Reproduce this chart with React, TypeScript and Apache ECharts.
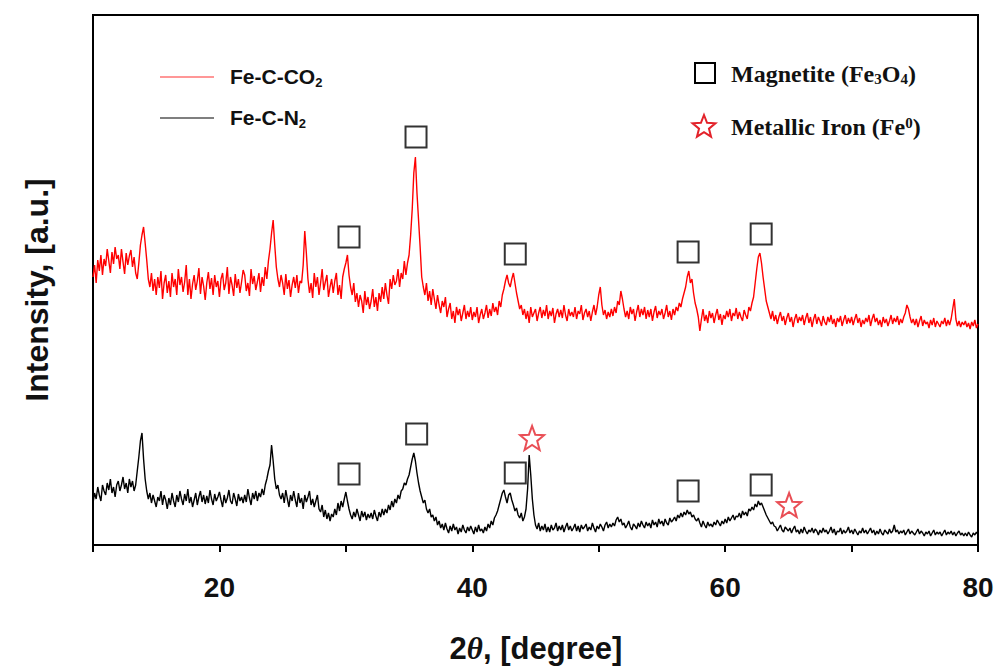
import React, { useEffect, useRef } from "react";
import * as echarts from "echarts";

// 2θ grid: 10° to 80° in 0.125° steps (8 readings per degree)
const X_START = 10;
const X_STEP = 0.125;

// Fe-C-CO2 (red) intensities, one row per degree
const redIntensity = [
  268, 280, 262, 285, 274, 290, 270, 286,
  279, 296, 284, 272, 293, 281, 298, 286,
  290, 276, 296, 283, 271, 292, 280, 289,
  295, 278, 288, 272, 266, 282, 300, 310,
  318, 302, 285, 266, 258, 272, 254, 266,
  250, 268, 257, 274, 246, 262, 270, 252,
  264, 248, 272, 258, 266, 250, 276, 260,
  268, 253, 263, 280, 250, 266, 246, 261,
  270, 255, 264, 277, 251, 268, 259, 245,
  262, 273, 256, 267, 250, 270, 258, 264,
  248, 266, 272, 255, 262, 278, 251, 268,
  260, 249, 271, 257, 266, 252, 263, 275,
  270, 254, 262, 249, 276, 261, 269, 255,
  263, 272, 253, 268, 259, 278, 266, 284,
  296, 312, 325, 300, 278, 266, 258, 270,
  262, 250, 271, 256, 265, 248, 260, 268,
  257, 270, 252, 264, 262, 280, 314, 292,
  266, 252, 262, 247, 272, 258, 268, 250,
  262, 276, 255, 263, 270, 248, 258, 266,
  252, 264, 272, 250, 260, 246, 268, 276,
  282, 290, 270, 258, 250, 262, 243, 252,
  238, 250, 244, 232, 254, 240, 248, 236,
  244, 256, 238, 248, 234, 252, 243, 258,
  246, 262, 250, 241, 266, 256, 270, 260,
  264, 276, 258, 272, 266, 284, 270, 282,
  290, 310, 336, 372, 388, 352, 325, 298,
  268, 258, 250, 262, 244, 254, 240, 256,
  246, 236, 250, 240, 232, 244, 238, 248,
  228, 236, 242, 226, 234, 222, 238, 230,
  236, 224, 232, 240, 226, 234, 228, 238,
  225, 233, 228, 238, 222, 230, 236, 226,
  232, 240, 227, 236, 229, 242, 233, 238,
  230, 244, 238, 250, 256, 264, 270, 262,
  258, 266, 272, 262, 252, 244, 236, 240,
  230, 236, 226, 234, 222, 238, 228, 232,
  236, 224, 232, 238, 227, 235, 229, 240,
  226, 234, 229, 237, 222, 231, 236, 228,
  235, 227, 240, 230, 224, 236, 229, 233,
  228, 238, 226, 234, 231, 240, 225, 232,
  236, 228, 234, 224, 233, 240, 230, 238,
  250, 258, 240, 230, 235, 226, 233, 228,
  236, 229, 238, 232, 244, 240, 254, 246,
  236, 228, 234, 226, 238, 231, 236, 224,
  233, 240, 228, 236, 230, 238, 226, 235,
  228, 236, 224, 233, 239, 227, 234, 230,
  236, 226, 232, 240, 228, 234, 225, 236,
  230, 238, 234, 242, 238, 246, 252, 258,
  268, 274, 262, 266, 252, 242, 236, 228,
  214, 226, 236, 224, 230, 222, 234, 227,
  232, 222, 230, 236, 225, 231, 220, 230,
  226, 234, 228, 236, 224, 232, 229, 237,
  226, 233, 228, 224, 235, 230, 226, 238,
  234, 242, 248, 262, 276, 288, 292, 282,
  268, 256, 244, 238, 232, 226, 234, 224,
  230, 221, 228, 233, 224, 229, 220, 227,
  232, 223, 228, 218, 226, 231, 222, 228,
  224, 230, 220, 227, 232, 222, 228, 218,
  226, 231, 221, 228, 224, 219, 229, 223,
  220, 228, 223, 230, 221, 226, 218, 227,
  223, 229, 219, 225, 230, 221, 227, 222,
  228, 220, 226, 231, 222, 227, 218, 225,
  221, 227, 223, 230, 219, 226, 231, 223,
  227, 220, 225, 218, 228, 222, 226, 219,
  224, 230, 221, 227, 223, 229, 220, 226,
  222, 228, 232, 240, 236, 228, 222, 226,
  220, 226, 218, 224, 229, 219, 225, 221,
  223, 217, 225, 220, 227, 218, 224, 221,
  218, 224, 221, 227, 219, 225, 220, 226,
  236, 246, 226, 219, 224, 218, 223, 220,
  224, 218, 222, 216, 223, 219, 225, 217,
  221,
];

// Fe-C-N2 (black) intensities, one row per degree
const blackIntensity = [
  42, 52, 46, 58, 50, 44, 60, 54,
  50, 62, 55, 66, 52, 58, 48, 60,
  64, 54, 60, 68, 56, 62, 52, 66,
  58, 64, 54, 60, 74, 88, 104, 112,
  86, 66, 54, 46, 52, 42, 50, 44,
  38, 48, 44, 54, 40, 50, 45, 36,
  47, 40, 52, 44, 38, 50, 43, 54,
  46, 40, 51, 44, 56, 42, 48, 38,
  45, 52, 40, 48, 54, 43, 50, 41,
  49, 42, 55, 46, 40, 51, 44, 48,
  53, 45, 38, 50, 42, 47, 55, 44,
  41, 52, 46, 39, 51, 44, 48, 42,
  50, 43, 56, 47, 40, 52, 46, 54,
  44, 52, 48, 56, 50, 60, 66, 74,
  80, 100, 84, 66, 56, 60, 50, 46,
  52, 42, 55, 46, 38, 50, 44, 54,
  45, 38, 52, 42, 47, 36, 50, 43,
  48, 54, 40, 46, 38, 44, 50, 36,
  33, 40, 28, 35, 26, 32, 24, 31,
  28, 36, 30, 42, 34, 44, 38, 46,
  53, 44, 36, 30, 26, 33, 28, 36,
  30, 24, 34, 28, 33, 25, 31, 27,
  32, 26, 35, 29, 24, 33, 28, 36,
  30, 36, 32, 40, 35, 44, 38, 46,
  42, 50, 46, 54, 56, 62, 60, 66,
  70, 78, 86, 92, 84, 72, 62, 54,
  48, 42, 45, 36, 32, 36, 28, 30,
  24, 28, 20, 24, 17, 21, 15, 22,
  16, 12, 19, 14, 21, 15, 18, 11,
  17, 13, 20, 15, 12, 18, 14, 19,
  15, 11, 18, 13, 20, 14, 16, 12,
  18, 14, 21, 17, 24, 20, 27, 30,
  34, 40, 46, 52, 55, 48, 42, 50,
  52, 45, 40, 34, 37, 30, 27, 32,
  24, 28, 36, 56, 90, 70, 46, 30,
  20, 16, 22, 14, 19, 15, 21, 13,
  18, 13, 20, 15, 17, 22, 14, 19,
  15, 20, 13, 18, 22, 15, 19, 14,
  17, 21, 14, 19, 13, 20, 16, 18,
  21, 14, 18, 15, 22, 17, 13, 19,
  16, 21, 18, 14, 20, 23, 17, 21,
  18, 22, 19, 25, 28, 23, 26, 20,
  22, 17, 20, 24, 18, 15, 21, 19,
  16, 22, 18, 24, 20, 17, 23, 19,
  22, 17, 25, 20, 23, 18, 26, 21,
  24, 19, 26, 22, 20, 27, 23, 25,
  28, 24, 30, 27, 32, 28, 33, 30,
  35, 31, 33, 28, 30, 26, 24, 27,
  22, 18, 24, 20, 17, 23, 19, 21,
  18, 23, 20, 25, 22, 19, 24, 21,
  26, 22, 28, 24, 27, 30, 25, 29,
  28, 32, 27, 34, 30, 33, 29, 36,
  34, 38, 35, 41, 38, 44, 40, 42,
  38, 34, 30, 27, 24, 21, 23, 19,
  18, 14, 17, 20, 15, 13, 18, 16,
  14, 17, 12, 16, 19, 13, 15, 11,
  16, 12, 18, 14, 11, 15, 13, 17,
  12, 16, 14, 10, 15, 12, 17, 13,
  15, 11, 14, 18, 12, 16, 10, 14,
  13, 17, 11, 15, 12, 14, 18, 12,
  15, 11, 16, 13, 10, 14, 12, 17,
  12, 15, 11, 14, 17, 12, 15, 10,
  14, 11, 16, 12, 10, 15, 13, 11,
  16, 12, 14, 20, 13, 15, 11, 14,
  12, 15, 10, 13, 16, 11, 14, 12,
  10, 13, 16, 11, 14, 12, 9, 13,
  11, 14, 9, 12, 15, 10, 13, 11,
  13, 9, 12, 15, 10, 13, 11, 14,
  10, 13, 9, 12, 14, 10, 12, 9,
  12, 9, 13, 10, 8, 12, 10, 13,
  10,
];

// Peak markers [2θ, intensity]
const magnetiteRed = [[30.25, 308], [35.55, 408], [43.4, 291], [57.07, 293], [62.85, 311]];
const magnetiteBlack = [[30.25, 71], [35.6, 111], [43.4, 72], [57.07, 54], [62.85, 60]];
const ironBlack = [[44.73, 107], [65.06, 40]];

const xTicks = [20, 40, 60, 80];

const STAR =
  "path://M12,1 L14.9,8.6 L23,9 L16.7,14.1 L18.9,22 L12,17.5 L5.1,22 L7.3,14.1 L1,9 L9.1,8.6 Z";

const SANS = "Liberation Sans, Arial, sans-serif";
const SERIF = "Liberation Serif, Times New Roman, serif";

export default function App() {
  const ref = useRef<HTMLDivElement>(null);

  useEffect(() => {
    if (!ref.current) return;
    const chart = echarts.init(ref.current, null, { renderer: "svg" });
    const toPairs = (arr: number[]) => arr.map((v, i) => [X_START + i * X_STEP, v]);

    const starPts = (cx: number, cy: number, R: number, r: number) => {
      const pts: number[][] = [];
      for (let k = 0; k < 10; k++) {
        const a = -Math.PI / 2 + (k * Math.PI) / 5;
        const rad = k % 2 === 0 ? R : r;
        pts.push([cx + rad * Math.cos(a), cy + rad * Math.sin(a)]);
      }
      return pts;
    };

    chart.setOption({
      animation: false,
      backgroundColor: "#fff",
      grid: {
        left: 93,
        right: 20,
        top: 15,
        bottom: 123,
        show: true,
        borderColor: "#000",
        borderWidth: 2,
      },
      xAxis: {
        type: "value",
        min: 10,
        max: 80,
        interval: 10,
        axisLine: { show: true, lineStyle: { color: "#000", width: 2 } },
        axisTick: { show: true, inside: false, length: 7, lineStyle: { color: "#000", width: 2 } },
        axisLabel: {
          margin: 28,
          fontSize: 28,
          fontWeight: "bold",
          fontFamily: SANS,
          color: "#111",
          formatter: (v: number) => (xTicks.includes(v) ? String(v) : ""),
        },
        splitLine: { show: false },
      },
      yAxis: {
        type: "value",
        min: 0,
        max: 530,
        axisLine: { show: true, lineStyle: { color: "#000", width: 2 } },
        axisTick: { show: false },
        axisLabel: { show: false },
        splitLine: { show: false },
      },
      series: [
        {
          name: "Fe-C-CO2",
          type: "line",
          data: toPairs(redIntensity),
          showSymbol: false,
          lineStyle: { color: "#ff0000", width: 1.4 },
          z: 2,
        },
        {
          name: "Fe-C-N2",
          type: "line",
          data: toPairs(blackIntensity),
          showSymbol: false,
          lineStyle: { color: "#000", width: 1.4 },
          z: 2,
        },
        {
          type: "scatter",
          data: [...magnetiteRed, ...magnetiteBlack],
          symbol: "rect",
          symbolSize: 21,
          itemStyle: { color: "rgba(255,255,255,0)", borderColor: "#000", borderWidth: 2 },
          z: 5,
        },
        {
          type: "scatter",
          data: ironBlack,
          symbol: STAR,
          symbolSize: 24,
          itemStyle: { color: "rgba(255,255,255,0)", borderColor: "#e3222a", borderWidth: 2 },
          z: 5,
        },
      ],
      graphic: [
        // left legend
        { type: "line", shape: { x1: 160, y1: 77, x2: 214, y2: 77 }, style: { stroke: "#ff3030", lineWidth: 1.2 } },
        { type: "line", shape: { x1: 160, y1: 118, x2: 214, y2: 118 }, style: { stroke: "#000", lineWidth: 1.2 } },
        {
          type: "text",
          x: 230,
          y: 76,
          style: {
            text: "{a|Fe-C-CO}{s|2}",
            verticalAlign: "middle",
            rich: {
              a: { fontSize: 21, fontWeight: "bold", fontFamily: SANS, fill: "#111" },
              s: { fontSize: 13, fontWeight: "bold", fontFamily: SANS, fill: "#111", padding: [12, 0, 0, 0] },
            },
          },
        },
        {
          type: "text",
          x: 230,
          y: 117,
          style: {
            text: "{a|Fe-C-N}{s|2}",
            verticalAlign: "middle",
            rich: {
              a: { fontSize: 21, fontWeight: "bold", fontFamily: SANS, fill: "#111" },
              s: { fontSize: 13, fontWeight: "bold", fontFamily: SANS, fill: "#111", padding: [12, 0, 0, 0] },
            },
          },
        },
        // right legend
        {
          type: "rect",
          shape: { x: 695, y: 63, width: 20, height: 20 },
          style: { fill: "none", stroke: "#000", lineWidth: 2 },
        },
        {
          type: "polygon",
          shape: { points: starPts(704, 127, 12, 5.2) },
          style: { fill: "none", stroke: "#e3222a", lineWidth: 2 },
        },
        {
          type: "text",
          x: 731,
          y: 74,
          style: {
            text: "{a|Magnetite (Fe}{s|3}{a|O}{s|4}{a|)}",
            verticalAlign: "middle",
            rich: {
              a: { fontSize: 24, fontWeight: "bold", fontFamily: SERIF, fill: "#111" },
              s: { fontSize: 15, fontWeight: "bold", fontFamily: SERIF, fill: "#111", padding: [9, 0, 0, 0] },
            },
          },
        },
        {
          type: "text",
          x: 731,
          y: 127,
          style: {
            text: "{a|Metallic Iron (Fe}{p|0}{a|)}",
            verticalAlign: "middle",
            rich: {
              a: { fontSize: 24, fontWeight: "bold", fontFamily: SERIF, fill: "#111" },
              p: { fontSize: 15, fontWeight: "bold", fontFamily: SERIF, fill: "#111", padding: [0, 0, 9, 0] },
            },
          },
        },
        // axis titles
        {
          type: "text",
          x: 37,
          y: 290,
          rotation: Math.PI / 2,
          style: {
            text: "Intensity, [a.u.]",
            align: "center",
            verticalAlign: "middle",
            fontSize: 32,
            fontWeight: "bold",
            fontFamily: SANS,
            fill: "#111",
          },
        },
        {
          type: "text",
          x: 536,
          y: 648,
          style: {
            text: "{a|2}{t|θ}{a|, [degree]}",
            align: "center",
            verticalAlign: "middle",
            rich: {
              a: { fontSize: 31, fontWeight: "bold", fontFamily: SANS, fill: "#111" },
              t: { fontSize: 31, fontWeight: "bold", fontStyle: "italic", fontFamily: SERIF, fill: "#111" },
            },
          },
        },
      ],
    });
    return () => chart.dispose();
  }, []);

  return (
    <div
      ref={ref}
      style={{ position: "absolute", left: 0, top: 0, width: 998, height: 668 }}
    />
  );
}
